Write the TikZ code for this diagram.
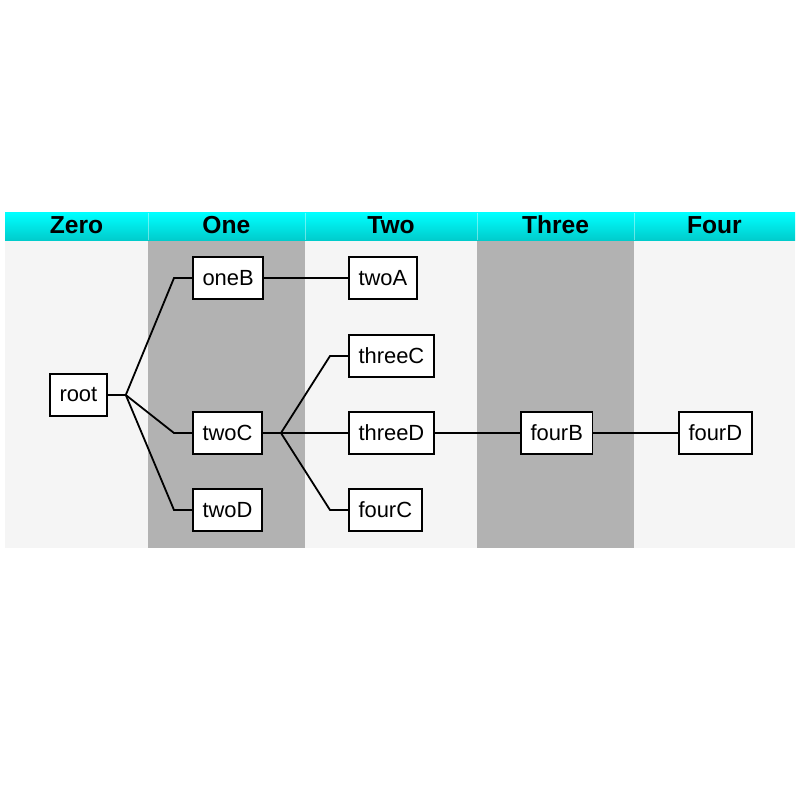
\documentclass[tikz,border=0pt]{standalone}
\usepackage{fontspec}
\setmainfont{Liberation Sans}
\usetikzlibrary{positioning}

\tikzset{
	box/.style={draw,fill=white,line width=0.045cm,anchor=west,minimum height=1.05cm,inner xsep=0.24cm,font=\fontsize{15.6}{18}\selectfont},
	head/.style={anchor=base,font=\fontsize{17.5}{20}\selectfont\bfseries}
}

\begin{document}
\begin{tikzpicture}
		\useasboundingbox (0,0) rectangle (20,-20);
		% background and shaded columns
		\fill[gray!8] (0.125,-6) rectangle (19.875,-13.7);
		\fill[gray!60] (3.7,-6) rectangle (7.625,-13.7);
		\fill[gray!60] (11.925,-6) rectangle (15.85,-13.7);
		% header band
		\shade[top color=cyan,bottom color=cyan!80!black] (0.125,-5.32) rectangle (19.875,-6);
		\foreach \x in {3.7,7.625,11.925,15.85}
			\draw[white,opacity=0.4,line width=0.02cm] (\x,-5.32) -- (\x,-6);
		\node[head] (hZero) at (1.9125,-5.83) {Zero};
		\node[head] (hOne) at (5.66,-5.83) {One};
		\node[head] (hTwo) at (9.775,-5.83) {Two};
		\node[head] (hThree) at (13.89,-5.83) {Three};
		\node[head] (hFour) at (17.86,-5.83) {Four};
		% nodes
		\node[box] (root) at (1.225,-9.875) {root};
		\node[box] (oneB) at (4.8,-6.95) {oneB};
		\node[box] (twoC) at (4.8,-10.825) {twoC};
		\node[box] (twoD) at (4.8,-12.75) {twoD};
		\node[box] (twoA) at (8.7,-6.95) {twoA};
		\node[box] (threeC) at (8.7,-8.9) {threeC};
		\node[box] (threeD) at (8.7,-10.825) {threeD};
		\node[box] (fourC) at (8.7,-12.75) {fourC};
		\node[box] (fourB) at (13,-10.825) {fourB};
		\node[box] (fourD) at (16.95,-10.825) {fourD};
		% edges
		\foreach \a/\b in {root/oneB,root/twoC,root/twoD,oneB/twoA,twoC/threeC,twoC/threeD,twoC/fourC,threeD/fourB,fourB/fourD}
			\draw[line width=0.045cm] (\a.east) -- ++(0.45,0) -- ([xshift=-0.45cm]\b.west) -- (\b.west);
	\end{tikzpicture}
\end{document}
